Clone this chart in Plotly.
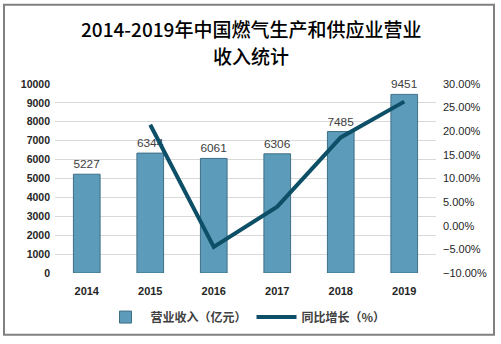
import plotly.graph_objects as go

years = ["2014", "2015", "2016", "2017", "2018", "2019"]
revenue = [5227, 6344, 6061, 6306, 7485, 9451]
growth_years = ["2015", "2016", "2017", "2018", "2019"]
growth = [0.2137, -0.0446, 0.0404, 0.1870, 0.2627]
title_lines = ["2014-2019年中国燃气生产和供应业营业", "收入统计"]

W, H = 501, 344
ML, MR, MT, MB = 55, 65, 84, 67
pw, ph = W - ML - MR, H - MT - MB

fig = go.Figure()
fig.add_trace(go.Bar(
    x=years, y=revenue, name="营业收入（亿元）",
    marker=dict(color="#5c9bba", line=dict(color="#3f6f86", width=1)),
    width=0.42,
    text=[str(v) for v in revenue], textposition="outside",
    textfont=dict(family="Liberation Sans, Arial", size=12, color="#404040"),
    cliponaxis=False,
))
fig.add_trace(go.Scatter(
    x=growth_years, y=growth, name="同比增长（%）", yaxis="y2",
    mode="lines", line=dict(color="#0d4f66", width=4),
))

def px_x(p):
    return (p - ML) / pw

def px_y(p):
    return (H - MB - p) / ph

annotations = []
for t, yy in zip(title_lines, [27, 55]):
    annotations.append(dict(
        text=t, xref="paper", yref="paper", x=px_x(W / 2), y=px_y(yy),
        xanchor="center", yanchor="middle", showarrow=False,
        font=dict(family="Noto Sans CJK SC", size=19, color="#000000", weight=500),
    ))

fig.update_layout(
    width=W, height=H,
    margin=dict(l=ML, r=MR, t=MT, b=MB),
    paper_bgcolor="white", plot_bgcolor="white",
    annotations=annotations,
    xaxis=dict(
        type="category", showgrid=False, showline=False, ticks="",
        ticklabelstandoff=10,
        tickfont=dict(family="Liberation Sans, Arial", size=11, color="#262626", weight="bold"),
    ),
    yaxis=dict(
        range=[0, 10000], dtick=1000, tickformat="d", showgrid=True,
        gridcolor="#d9d9d9", gridwidth=1,
        zeroline=False, showline=False, ticks="", ticklabelstandoff=4,
        tickfont=dict(family="Liberation Sans, Arial", size=10.5, color="#262626", weight="bold"),
    ),
    yaxis2=dict(
        overlaying="y", side="right", range=[-0.1, 0.3], dtick=0.05, tickformat=".2%",
        showgrid=False, zeroline=False, showline=False, ticks="", ticklabelstandoff=6,
        tickfont=dict(family="Liberation Sans, Arial", size=11, color="#262626"),
    ),
    showlegend=True,
    legend=dict(
        orientation="h", x=0.5, xanchor="center", y=px_y(322), yanchor="middle",
        font=dict(family="Noto Sans CJK SC", size=12, color="#404040", weight="bold"),
        bgcolor="rgba(0,0,0,0)", traceorder="normal", itemwidth=40,
    ),
    shapes=[dict(
        type="rect", xref="paper", yref="paper",
        x0=px_x(4), x1=px_x(494), y0=px_y(3), y1=px_y(340),
        line=dict(color="#808080", width=2), fillcolor="rgba(0,0,0,0)", layer="below",
    )],
)

fig.write_html("out.html")
